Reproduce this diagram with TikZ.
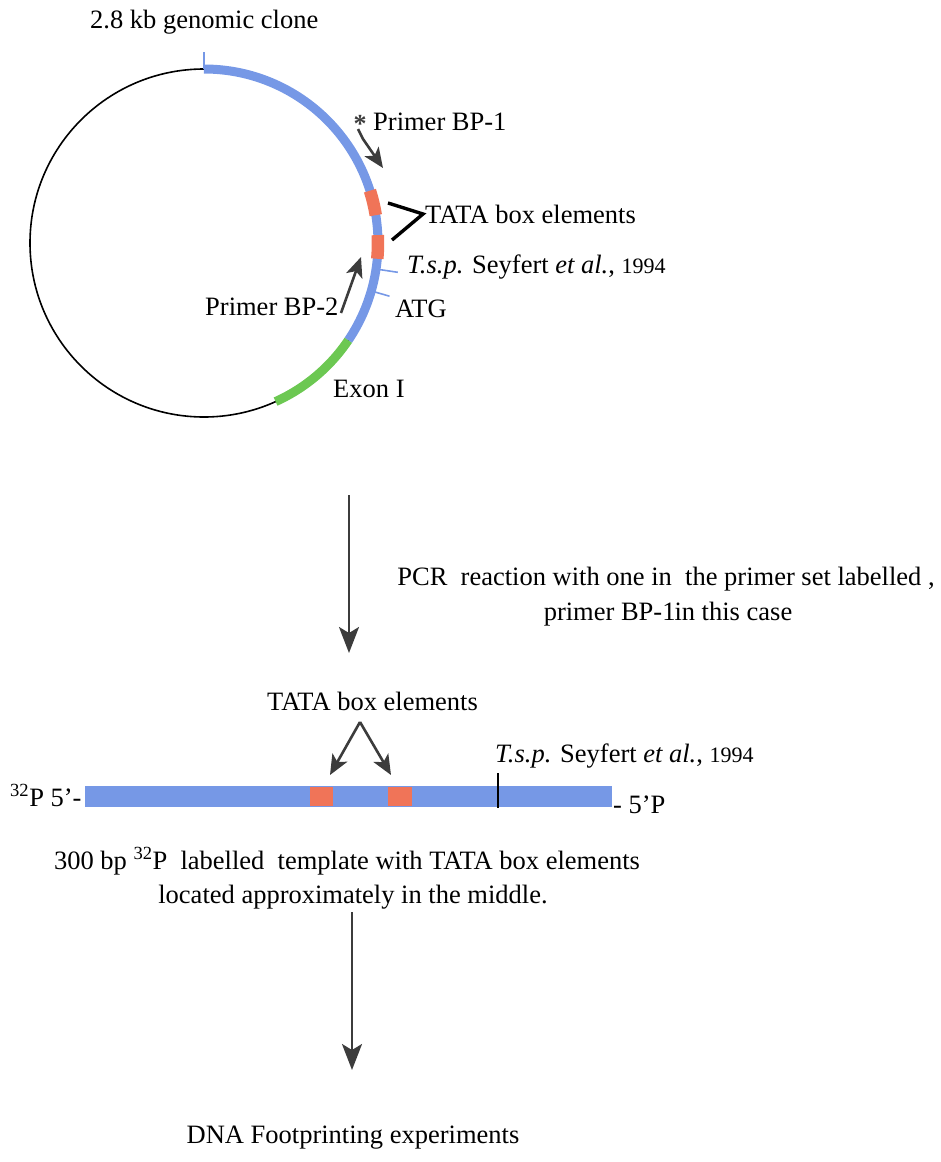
\documentclass[tikz,border=0pt]{standalone}
\usepackage{fontspec}
\setmainfont{Liberation Serif}
\usetikzlibrary{arrows.meta}
\definecolor{dnablue}{RGB}{118,152,230}
\definecolor{exongreen}{RGB}{108,200,82}
\definecolor{tatared}{RGB}{240,116,88}
\definecolor{arrowgray}{RGB}{60,60,60}
\tikzset{
  lbl/.style={font=\fontsize{26.5}{30}\selectfont, inner sep=0pt, anchor=base west},
  lblc/.style={font=\fontsize{26.5}{30}\selectfont, inner sep=0pt, anchor=base},
  bigarrow/.style={draw=arrowgray, line width=2.4pt, -{Stealth[length=26pt,width=20pt,inset=6pt]}},
  smallarrow/.style={draw=arrowgray, line width=2.6pt, -{Stealth[length=20pt,width=17pt,inset=5pt]}},
  tick/.style={draw=dnablue, line width=1.6pt},
}
\newcommand{\smallyr}[1]{{\fontsize{22}{26}\selectfont #1}}
\begin{document}
\begin{tikzpicture}[x=1pt,y=1pt]
\useasboundingbox (0,0) rectangle (941,-1162);
% ---------- plasmid ----------
\coordinate (C) at (204,-243);
\draw[black, line width=1.6pt] (C) circle[radius=174];
\draw[dnablue, line width=9pt] ([shift={(90:174)}]C) arc[start angle=90, end angle=-34, radius=174];
\draw[exongreen, line width=9pt] ([shift={(-34:174)}]C) arc[start angle=-34, end angle=-65.7, radius=174];
\draw[tatared, line width=12.5pt] ([shift={(17.5:174)}]C) arc[start angle=17.5, end angle=9.2, radius=174];
\draw[tatared, line width=12.5pt] ([shift={(2.6:174)}]C) arc[start angle=2.6, end angle=-5.2, radius=174];
\draw[tick] ([shift={(90:174)}]C) -- ([shift={(90:191)}]C);
\draw[tick] ([shift={(-8.6:176)}]C) -- ([shift={(-8.6:196)}]C);
\draw[tick] ([shift={(-16:176)}]C) -- ([shift={(-16:193)}]C);
% labels
\node[lbl] (clone) at (90,-28) {2.8 kb genomic clone};
\node[font=\fontsize{26}{28}\selectfont\bfseries, inner sep=0pt, text=arrowgray] (ast) at (360,-124) {*};
\node[lbl] (bp1) at (373,-130) {Primer BP-1};
\node[lbl] (tata1) at (425,-223) {TATA box elements};
\node[lbl] (tsp1) at (407,-273) {\textit{T.s.p.} Seyfert \textit{et al.}, \smallyr{1994}};
\node[lbl] (atg) at (395,-317) {ATG};
\node[lbl] (bp2) at (205,-315) {Primer BP-2};
\node[lbl] (exon) at (333,-397) {Exon I};
% primer arrows and bracket
\coordinate (p1s) at (358,-129);
\coordinate (p1m) at (363,-139);
\coordinate (p1e) at (383,-168);
\draw[smallarrow] (p1s) -- (p1m) -- (p1e);
\coordinate (p2s) at (341,-313);
\coordinate (p2e) at (361,-257);
\draw[smallarrow] (p2s) -- (p2e);
\coordinate (br1) at (388,-203);
\coordinate (br2) at (423,-214);
\coordinate (br3) at (392,-240);
\draw[black, line width=3.4pt, line join=miter] (br1) -- (br2) -- (br3);
% ---------- PCR arrow ----------
\coordinate (a1s) at (349,-495);
\coordinate (a1e) at (349,-653);
\draw[bigarrow] (a1s) -- (a1e);
\node[lblc] (pcr1) at (666,-585) {PCR\ \ reaction with one in\ \ the primer set labelled ,};
\node[lblc] (pcr2) at (668,-620) {primer BP-1\kern-1pt in this case};
% ---------- linear template ----------
\node[lbl] (tata2) at (267,-710) {TATA box elements};
\coordinate (apex) at (360,-722);
\coordinate (t1) at (330,-775);
\coordinate (t2) at (391,-775);
\draw[smallarrow] (apex) -- (t1);
\draw[smallarrow] (apex) -- (t2);
\fill[dnablue] (85,-786) rectangle (612,-807);
\fill[tatared] (310,-787) rectangle (333,-806);
\fill[tatared] (388,-787) rectangle (412,-806);
\draw[black, line width=2.6pt] (498,-773) -- (498,-808);
\node[lbl] (tsp2) at (495,-762) {\textit{T.s.p.} Seyfert \textit{et al.}, \smallyr{1994}};
\node[lbl] (p5l) at (10,-806) {\textsuperscript{32}P 5’-};
\node[lbl] (p5r) at (613,-813) {- 5’P};
\node[lblc] (tmpl1) at (347,-869) {300 bp \textsuperscript{32}P\ \ labelled\ \ template with TATA box elements};
\node[lblc] (tmpl2) at (353,-903) {located approximately in the middle.};
% ---------- footprint arrow ----------
\coordinate (a2s) at (352,-912);
\coordinate (a2e) at (352,-1070);
\draw[bigarrow] (a2s) -- (a2e);
\node[lblc] (dna) at (353,-1143) {DNA Footprinting experiments};
\end{tikzpicture}
\end{document}
